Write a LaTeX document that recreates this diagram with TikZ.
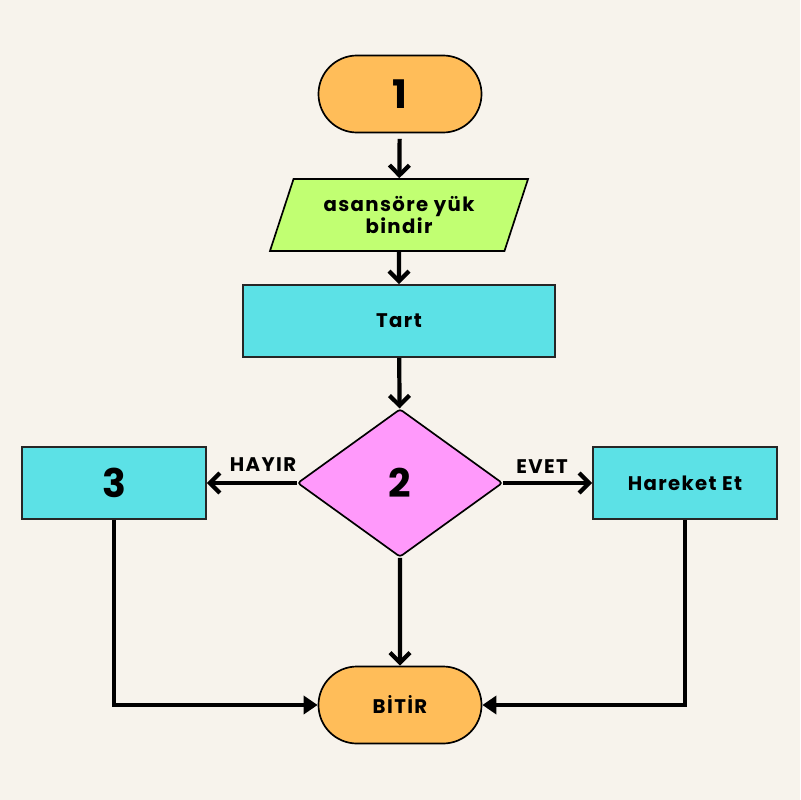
\documentclass[tikz,border=0pt]{standalone}
\usepackage{fontspec}
\setmainfont{Poppins}
\newfontfamily\lblfont[LetterSpace=7]{Poppins}
\usetikzlibrary{shapes.geometric, shapes.misc, arrows.meta, positioning}
\definecolor{paper}{HTML}{F7F3EC}
\definecolor{orange}{HTML}{FFBD59}
\definecolor{cyan}{HTML}{5CE1E6}
\definecolor{lime}{HTML}{C1FF72}
\definecolor{pink}{HTML}{FF99FB}
\tikzstyle{term} = [draw, rounded rectangle, fill=orange, line width=1.2pt,
    minimum width=4.075cm, minimum height=1.925cm, inner sep=0pt]
\tikzstyle{io} = [draw, trapezium, trapezium left angle=58, trapezium right angle=122,
    trapezium stretches body, fill=lime, line width=1.2pt,
    minimum width=6.45cm, minimum height=1.8cm, inner sep=0pt, align=center]
\tikzstyle{block} = [draw=black!85, rectangle, fill=cyan, line width=1.2pt,
    minimum width=4.6cm, minimum height=1.8cm, inner sep=0pt]
\tikzstyle{decision} = [draw, diamond, fill=pink, line width=1.2pt, rounded corners=2pt,
    minimum width=5.125cm, minimum height=3.7cm, inner sep=0pt]
\tikzstyle{flow} = [line width=3pt, -{Straight Barb[length=2.5mm, width=5mm, line width=3pt]}]
\tikzstyle{merge} = [line width=3pt, -{Triangle[length=3.5mm, width=4.5mm]}]
\newcommand{\bignum}{\bfseries\fontsize{28}{30}\selectfont}
\newcommand{\lbltext}{\lblfont\bfseries\fontsize{14}{17.7}\selectfont}

\begin{document}
\begin{tikzpicture}[x=0.025cm, y=-0.025cm]
        \fill[paper] (0, 0) rectangle (800, 800);
        \useasboundingbox (0, 0) rectangle (800, 800);

        \node[term, name=one] at (400, 94) {\bignum 1};
        \node[io, name=load] at (399, 215) {\lbltext asansöre yük\\ \lbltext bindir};
        \node[block, minimum width=7.8cm, name=tart] at (399, 321) {\lbltext Tart};
        \node[decision, name=check] at (400, 483) {\bignum 2};
        \node[block, name=three] at (114, 483) {\bignum 3};
        \node[block, name=move] at (685, 483) {\lbltext Hareket Et};
        \node[term, name=finish] at (400, 705) {\lbltext BİTİR};

        \draw[flow, shorten <=4pt] (one) -- (load);
        \draw[flow] (load) -- (tart);
        \draw[flow] (tart) -- (check);
        \draw[flow] (check) -- (finish);
        \draw[flow] (check) -- node [above=3pt, xshift=8pt] {\lbltext HAYIR} (three);
        \draw[flow] (check) -- node [above=2pt, xshift=-4pt] {\lbltext EVET} (move);
        \draw[merge] (three.south) |- (finish.west);
        \draw[merge] (move.south) |- (finish.east);
    \end{tikzpicture}
\end{document}
